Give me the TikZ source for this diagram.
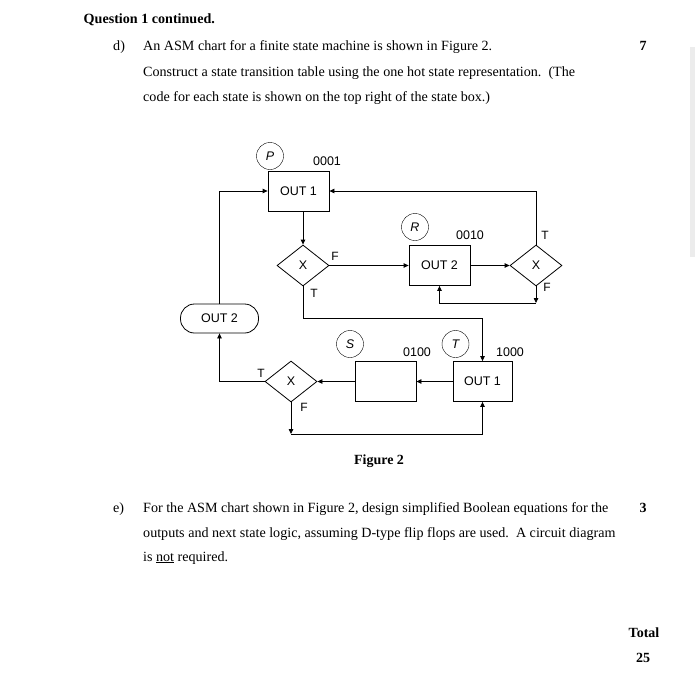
\documentclass[tikz,border=0pt]{standalone}
\usepackage{fontspec}
\setmainfont{Liberation Serif}
\newfontfamily\chartfont{Liberation Sans}
\usetikzlibrary{
  positioning,
  arrows.meta,
  shapes.geometric,
  calc
}
\definecolor{scanbar}{HTML}{ECECEC}

\begin{document}
\begin{tikzpicture}[
  x=1pt, y=-1pt,
  txt/.style={anchor=base west, inner sep=0pt, font=\fontsize{14.1}{16}\selectfont},
  boldmark/.style={anchor=base, inner sep=0pt, font=\fontsize{14}{16}\selectfont\bfseries},
  statebox/.style={draw, thick, minimum width=61pt, minimum height=40pt, inner sep=0pt,
                   font=\chartfont\fontsize{12.5}{14}\selectfont},
  decbox/.style={draw, thick, diamond, minimum width=52pt, minimum height=41pt, inner sep=0pt,
                 font=\chartfont\fontsize{12.5}{14}\selectfont},
  condbox/.style={draw, thick, rounded corners=14pt, minimum width=78pt, minimum height=29pt,
                  font=\chartfont\fontsize{12.5}{14}\selectfont},
  namecirc/.style={draw, circle, minimum size=27pt, inner sep=0pt,
                   font=\chartfont\itshape\fontsize{12.5}{14}\selectfont},
  code/.style={inner sep=0pt, font=\chartfont\fontsize{12.5}{14}\selectfont},
  lbl/.style={inner sep=0pt, font=\chartfont\fontsize{12}{14}\selectfont},
  arr/.style={-{Triangle[length=5pt, width=4.5pt]}, thick}
]
  \useasboundingbox (0,0) rectangle (700,677);
  \fill[scanbar] (690,47) rectangle (694.5,257);

  % question text
  \node[txt, font=\fontsize{14.1}{16}\selectfont\bfseries] (head) at (83.5,23.5) {Question 1 continued.};
  \node[txt] (pd) at (113,51) {d)};
  \node[txt] (d1) at (143,51) {An ASM chart for a finite state machine is shown in Figure 2.};
  \node[txt] (d2) at (143,76) {Construct a state transition table using the one hot state representation.\ \ (The};
  \node[txt] (d3) at (143,101) {code for each state is shown on the top right of the state box.)};
  \node[boldmark] (m7) at (643,51) {7};

  % state P
  \node[namecirc] (pc) at (270,156) {P};
  \node[code] (pcode) at (327,161) {0001};
  \node[statebox] (p) at (298.5,191) {OUT 1};
  \node[decbox] (x1) at (303,265.5) {X};
  \node[lbl] at (335,256) {F};
  \node[lbl] at (314,293) {T};

  % state R
  \node[namecirc] (rc) at (415,227) {R};
  \node[code] (rcode) at (470,235) {0010};
  \node[statebox] (r) at (439.5,265.5) {OUT 2};
  \node[decbox] (x2) at (536,265.5) {X};
  \node[lbl] at (545,235) {T};
  \node[lbl] at (547,287) {F};

  % conditional output
  \node[condbox] (o2) at (219.5,318.5) {OUT 2};

  % state S
  \node[namecirc] (sc) at (350,344) {S};
  \node[code] (scode) at (417,352) {0100};
  \node[statebox] (s) at (385.5,381.5) {};
  \node[decbox] (x3) at (291,381.5) {X};
  \node[lbl] at (261,373) {T};
  \node[lbl] at (304,407) {F};

  % state T
  \node[namecirc] (tc) at (455.5,344) {T};
  \node[code] (tcode) at (510,352) {1000};
  \node[statebox, minimum width=59pt] (t) at (482.5,381.5) {OUT 1};

  \coordinate (c1) at (482.5,318);
  \coordinate (c2) at (536,303);
  \coordinate (c3) at (291,434);

  % connectors
  \draw[arr] (p.south -| x1.north) -- (x1.north);
  \draw[arr] (x1.east) -- (r.west);
  \draw[arr] (x1.south) |- (c1) -- (t.north);
  \draw[arr] (r.east) -- (x2.west);
  \draw[arr] (x2.north) |- (p.east);
  \draw[arr] (x2.south) -- (c2);
  \draw[arr] (c2) -| (r.south);
  \draw[arr] (o2.north) |- (p.west);
  \draw[arr] (x3.west) -| (o2.south);
  \draw[arr] (s.west) -- (x3.east);
  \draw[arr] (t.west) -- (s.east);
  \draw[arr] (x3.south) -- (c3);
  \draw[arr] (c3) -| (t.south);

  \node[boldmark] (cap) at (379,464) {Figure 2};

  % part e
  \node[txt] (pe) at (113,512) {e)};
  \node[txt] (e1) at (143,512) {For the ASM chart shown in Figure 2, design simplified Boolean equations for the};
  \node[txt] (e2) at (143,537) {outputs and next state logic, assuming D-type flip flops are used.\ \ A circuit diagram};
  \node[txt] (e3) at (143,561) {is \underline{not} required.};
  \node[boldmark] (m3) at (643,512) {3};
  \node[boldmark] (tot) at (644,637) {Total};
  \node[boldmark] (m25) at (643,662) {25};
\end{tikzpicture}
\end{document}
